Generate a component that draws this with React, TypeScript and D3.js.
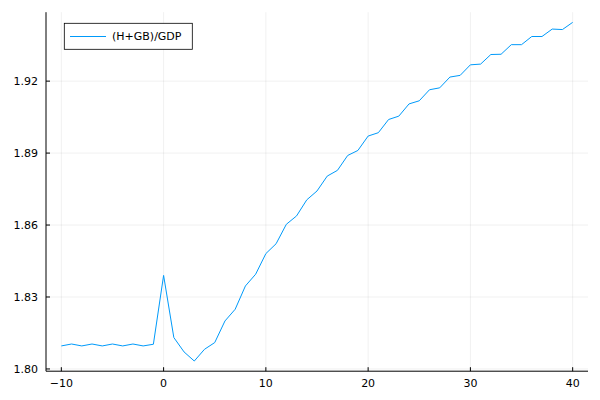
import React from "react";
import * as d3 from "d3";

const xValues: number[] = [
  -10, -9, -8, -7, -6, -5, -4, -3, -2, -1, 0, 1, 2, 3, 4, 5, 6, 7, 8, 9, 10,
  11, 12, 13, 14, 15, 16, 17, 18, 19, 20, 21, 22, 23, 24, 25, 26, 27, 28, 29,
  30, 31, 32, 33, 34, 35, 36, 37, 38, 39, 40,
];
const ratioValues: number[] = [
  1.8096, 1.8104, 1.8096, 1.8104, 1.8096, 1.8104, 1.8096, 1.8104, 1.8096, 1.8103,
  1.839, 1.8131, 1.8071, 1.8033, 1.8082, 1.811, 1.82, 1.8249, 1.8346, 1.8395,
  1.8481, 1.8522, 1.8603, 1.8638, 1.8705, 1.8742, 1.8804, 1.8828, 1.889, 1.8911,
  1.8971, 1.8985, 1.904, 1.9054, 1.9105, 1.9118, 1.9164, 1.9172, 1.9217, 1.9224,
  1.9268, 1.9271, 1.9311, 1.9312, 1.9352, 1.9352, 1.9386, 1.9386, 1.9417, 1.9415,
  1.9445,
];
const xTicks: number[] = [-10, 0, 10, 20, 30, 40];
const yTicks: number[] = [1.8, 1.83, 1.86, 1.89, 1.92];
const seriesLabel = "(H+GB)/GDP";

const W = 600;
const H = 400;
const left = 46;
const right = 588;
const top = 12.2;
const bottom = 371.2;
const FONT = "DejaVu Sans, sans-serif";
const LINE = "#009AFA";

export default function App() {
  const xMin = d3.min(xValues)!;
  const xMax = d3.max(xValues)!;
  const yMin = d3.min(ratioValues)!;
  const yMax = d3.max(ratioValues)!;
  const xPad = (xMax - xMin) * 0.03;
  const yPad = (yMax - yMin) * 0.03;
  const x = d3.scaleLinear().domain([xMin - xPad, xMax + xPad]).range([left, right]);
  const y = d3.scaleLinear().domain([yMin - yPad, yMax + yPad]).range([bottom, top]);
  const pts: [number, number][] = xValues.map((v, i) => [v, ratioValues[i]]);
  const line = d3
    .line<[number, number]>()
    .x((d) => x(d[0]))
    .y((d) => y(d[1]));
  const fmtX = (v: number) => (v < 0 ? "\u2212" + Math.abs(v) : String(v));

  return (
    <svg
      width={W}
      height={H}
      style={{ position: "absolute", left: 0, top: 0, background: "#fff" }}
      fontFamily={FONT}
    >
      <rect x={0} y={0} width={W} height={H} fill="#fff" />
      {/* grid */}
      {xTicks.map((t) => (
        <line key={"gx" + t} x1={x(t)} x2={x(t)} y1={top} y2={bottom} stroke="#000" strokeOpacity={0.1} strokeWidth={0.6} />
      ))}
      {yTicks.map((t) => (
        <line key={"gy" + t} x1={left} x2={right} y1={y(t)} y2={y(t)} stroke="#000" strokeOpacity={0.1} strokeWidth={0.6} />
      ))}
      {/* axes */}
      <line x1={left} x2={right} y1={bottom} y2={bottom} stroke="#000" strokeWidth={1} />
      <line x1={left} x2={left} y1={top} y2={bottom} stroke="#000" strokeWidth={1} />
      {xTicks.map((t) => (
        <g key={"tx" + t}>
          <line x1={x(t)} x2={x(t)} y1={bottom} y2={bottom - 4} stroke="#000" strokeWidth={1} />
          <text x={x(t)} y={bottom + 16} textAnchor="middle" fontSize={11} fill="#000">
            {fmtX(t)}
          </text>
        </g>
      ))}
      {yTicks.map((t) => (
        <g key={"ty" + t}>
          <line x1={left} x2={left + 4} y1={y(t)} y2={y(t)} stroke="#000" strokeWidth={1} />
          <text x={38} y={y(t)} dy="0.35em" textAnchor="end" fontSize={11} fill="#000">
            {t.toFixed(2)}
          </text>
        </g>
      ))}
      {/* series */}
      <path d={line(pts) ?? ""} fill="none" stroke={LINE} strokeWidth={1} />
      {/* legend */}
      <rect x={64.3} y={23.3} width={128} height={26} fill="#fff" stroke="#000" strokeWidth={0.8} />
      <line x1={70} x2={106} y1={36.5} y2={36.5} stroke={LINE} strokeWidth={1} />
      <text x={112} y={36.5} dy="0.35em" fontSize={11} fill="#000">
        {seriesLabel}
      </text>
    </svg>
  );
}
